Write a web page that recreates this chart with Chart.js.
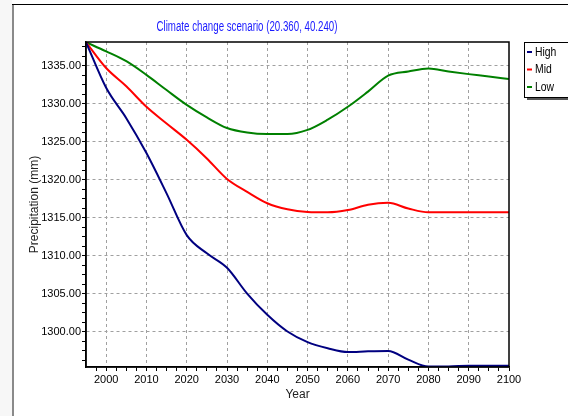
<!DOCTYPE html>
<html>
<head>
<meta charset="utf-8">
<script src="https://cdn.jsdelivr.net/npm/chart.js@4.4.1/dist/chart.umd.min.js"></script>
<style>
  html, body { margin: 0; padding: 0; background: #ffffff; }
  #wrap { width: 568px; height: 416px; }
</style>
</head>
<body>
<div id="wrap"><canvas id="precip-chart" width="568" height="416"></canvas></div>
<script>
// 数据（每5年读一次图）
const years = [1995, 2000, 2005, 2010, 2015, 2020, 2025, 2030, 2035, 2040, 2045,
               2050, 2055, 2060, 2065, 2070, 2075, 2080, 2085, 2090, 2095, 2100];
const highValues = [1338.1, 1332.1, 1328.1, 1323.5, 1318.2, 1312.7, 1310.3, 1308.4, 1305.0, 1302.2, 1300.0,
                    1298.6, 1297.8, 1297.3, 1297.4, 1297.45, 1296.3, 1295.4, 1295.4, 1295.5, 1295.5, 1295.5];
const midValues = [1338.1, 1334.7, 1332.3, 1329.6, 1327.4, 1325.25, 1322.8, 1320.1, 1318.4, 1316.9, 1316.1,
                   1315.75, 1315.7, 1316.0, 1316.7, 1316.95, 1316.2, 1315.7, 1315.7, 1315.7, 1315.7, 1315.7];
const lowValues = [1338.1, 1336.9, 1335.6, 1333.8, 1331.8, 1329.85, 1328.2, 1326.8, 1326.2, 1326.0, 1326.0,
                   1326.55, 1327.9, 1329.6, 1331.6, 1333.7, 1334.25, 1334.65, 1334.25, 1333.9, 1333.6, 1333.25];
const seriesNames = ['High', 'Mid', 'Low'];
const seriesColors = ['#000080', '#ff0000', '#008000'];

// 刻度（主刻度带标签，次刻度只画短线）
const xTickValues = [];
for (let y = 1997.5; y <= 2100; y += 2.5) xTickValues.push(y);
const yTickValues = [];
for (let v = 1296.25; v <= 1338; v += 1.25) yTickValues.push(v);

const chartTitle = 'Climate change scenario (20.360, 40.240)';
const FONT = "'Liberation Sans', Arial, sans-serif";

// 画窄体文字（没有窄字体，只能横向压缩）
function narrowText(ctx, text, x, y, scaleX) {
  ctx.save();
  ctx.translate(x, y);
  ctx.scale(scaleX, 1);
  ctx.fillText(text, 0, 0);
  ctx.restore();
}

// 窗口边框、图框、标题和图例
const decorPlugin = {
  id: 'decor',
  beforeDraw(chart) {
    const ctx = chart.ctx;
    ctx.save();
    ctx.fillStyle = '#ffffff';
    ctx.fillRect(0, 0, chart.width, chart.height);
    ctx.fillStyle = '#f7f7f7';
    ctx.fillRect(0, 0, 12, chart.height);
    ctx.fillStyle = '#8a8a8a';
    ctx.fillRect(12, 4, 2, chart.height - 4);
    ctx.fillStyle = '#000000';
    ctx.fillRect(12, 4, chart.width - 12, 1);
    ctx.restore();
  },
  afterDraw(chart) {
    const ctx = chart.ctx;
    const a = chart.chartArea;
    ctx.save();
    ctx.strokeStyle = '#000000';
    ctx.lineWidth = 1.5;
    ctx.strokeRect(a.left, a.top, a.right - a.left, a.bottom - a.top);

    // 标题
    ctx.font = '14px ' + FONT;
    ctx.fillStyle = '#1a1aff';
    ctx.textAlign = 'center';
    ctx.textBaseline = 'middle';
    const tw = ctx.measureText(chartTitle).width;
    narrowText(ctx, chartTitle, 247, 27, 181 / tw);

    // 图例框
    const lx = 524, ly = 42, lw = 50, lh = 55;
    ctx.fillStyle = '#555555';
    ctx.fillRect(lx + 3, ly + 3, lw, lh);
    ctx.fillStyle = '#ffffff';
    ctx.fillRect(lx, ly, lw, lh);
    ctx.strokeStyle = '#000000';
    ctx.lineWidth = 1;
    ctx.strokeRect(lx + 0.5, ly + 0.5, lw, lh);
    ctx.textAlign = 'left';
    ctx.font = '13px ' + FONT;
    seriesNames.forEach((name, i) => {
      const yy = 52 + i * 17.5;
      ctx.strokeStyle = seriesColors[i];
      ctx.lineWidth = 2;
      ctx.beginPath();
      ctx.moveTo(527, yy);
      ctx.lineTo(532, yy);
      ctx.stroke();
      ctx.fillStyle = '#000000';
      narrowText(ctx, name, 535, yy, 0.8);
    });
    ctx.restore();
  }
};

const ctx = document.getElementById('precip-chart').getContext('2d');
new Chart(ctx, {
  type: 'line',
  data: {
    labels: years,
    datasets: [
      { label: seriesNames[0], data: years.map((y, i) => ({ x: y, y: highValues[i] })) },
      { label: seriesNames[1], data: years.map((y, i) => ({ x: y, y: midValues[i] })) },
      { label: seriesNames[2], data: years.map((y, i) => ({ x: y, y: lowValues[i] })) }
    ].map((ds, i) => Object.assign(ds, {
      borderColor: seriesColors[i],
      backgroundColor: seriesColors[i],
      borderWidth: 2,
      pointRadius: 0,
      fill: false,
      cubicInterpolationMode: 'monotone'
    }))
  },
  options: {
    responsive: false,
    animation: false,
    devicePixelRatio: 1,
    layout: { padding: { left: 0, top: 42, right: 59, bottom: 0 } },
    plugins: {
      legend: { display: false },
      title: { display: false },
      tooltip: { enabled: false }
    },
    scales: {
      x: {
        type: 'linear',
        min: 1995,
        max: 2100,
        afterBuildTicks: (scale) => { scale.ticks = xTickValues.map(v => ({ value: v })); },
        afterFit: (scale) => { scale.height = 49; },
        ticks: {
          autoSkip: false,
          maxRotation: 0,
          padding: 2,
          color: '#000000',
          font: { family: FONT, size: 11 },
          callback: (v) => (v % 10 === 0 ? String(v) : '')
        },
        grid: {
          color: (c) => (c.tick && c.tick.value % 10 === 0 && c.tick.value < 2100 ? '#a0a0a0' : 'rgba(0,0,0,0)'),
          tickColor: '#000000',
          tickLength: 4,
          lineWidth: 1
        },
        border: { color: '#000000', width: 1.5, dash: [3, 3] },
        title: {
          display: true,
          text: 'Year',
          color: '#222222',
          font: { family: FONT, size: 12 },
          padding: { top: 0, bottom: 14 }
        }
      },
      y: {
        min: 1295.33,
        max: 1338.13,
        afterBuildTicks: (scale) => { scale.ticks = yTickValues.map(v => ({ value: v })); },
        afterFit: (scale) => { scale.width = 86; },
        ticks: {
          autoSkip: false,
          padding: 1,
          color: '#000000',
          font: { family: FONT, size: 11 },
          callback: (v) => (v % 5 === 0 ? v.toFixed(2) : '')
        },
        grid: {
          color: (c) => (c.tick && c.tick.value % 5 === 0 ? '#a0a0a0' : 'rgba(0,0,0,0)'),
          tickColor: '#000000',
          tickLength: 4,
          lineWidth: 1
        },
        border: { color: '#000000', width: 1.5, dash: [3, 3] },
        title: {
          display: true,
          text: 'Precipitation (mm)',
          color: '#222222',
          font: { family: FONT, size: 12 },
          padding: { top: 27, bottom: 0 }
        }
      }
    }
  },
  plugins: [decorPlugin]
});
</script>
</body>
</html>
